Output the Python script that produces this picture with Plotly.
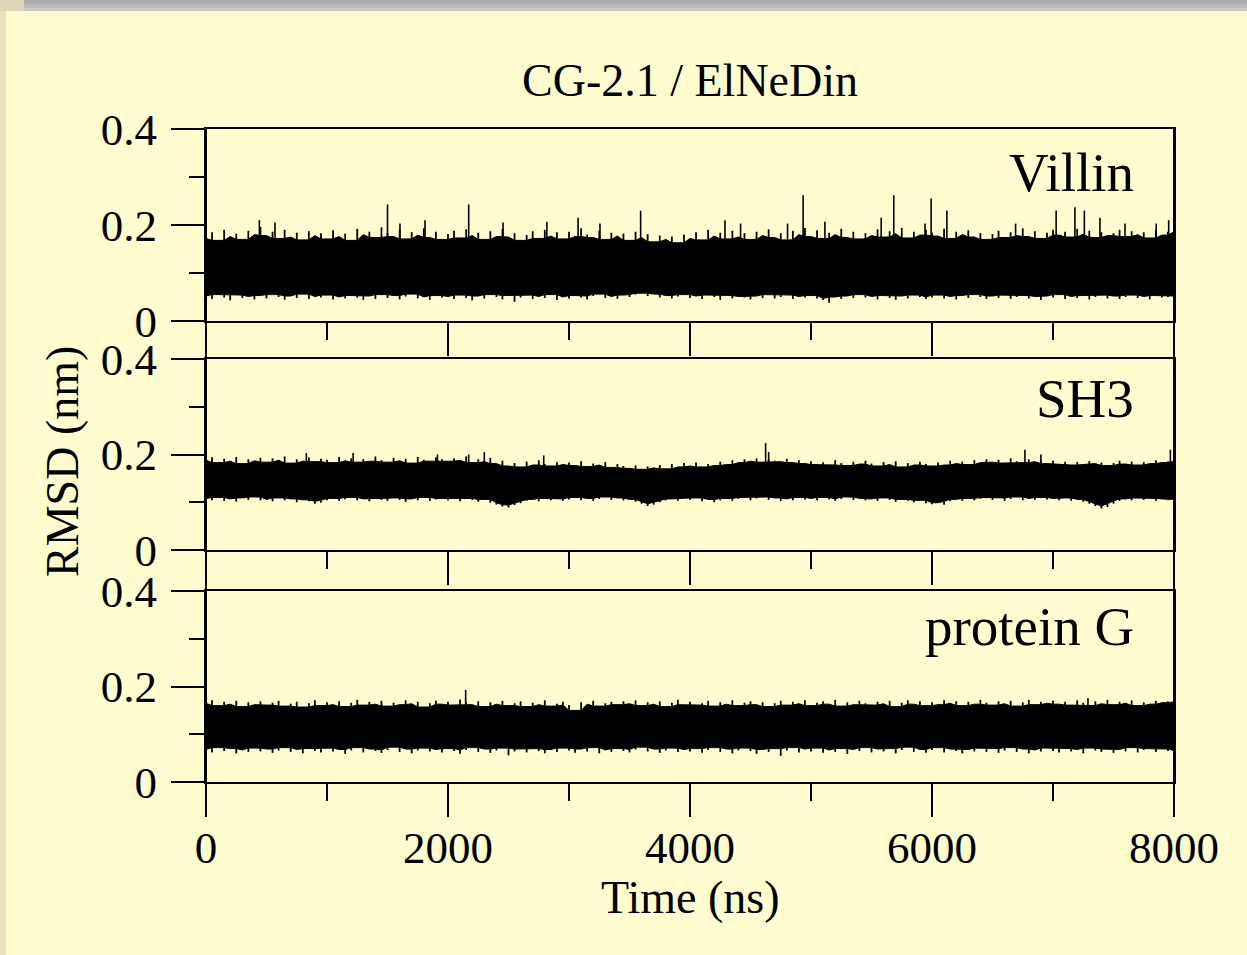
import plotly.graph_objects as go

FONT = "Liberation Serif, Times New Roman, Times, serif"
W, H = 1247, 955
BG = "#FFFDD0"

# Sampling grid of the envelopes (ns)
time_ns = list(range(0, 8001, 50))

# ---------------- Villin ----------------
villin_upper = [
    0.172, 0.185, 0.168, 0.190, 0.176, 0.182, 0.170, 0.188, 0.180, 0.196,
    0.178, 0.186, 0.172, 0.190, 0.175, 0.184, 0.169, 0.187, 0.178, 0.183,
    0.171, 0.189, 0.176, 0.182, 0.168, 0.192, 0.180, 0.186, 0.174, 0.195,
    0.183, 0.176, 0.190, 0.171, 0.185, 0.179, 0.193, 0.174, 0.186, 0.170,
    0.181, 0.188, 0.173, 0.191, 0.178, 0.184, 0.170, 0.187, 0.176, 0.192,
    0.175, 0.183, 0.168, 0.179, 0.187, 0.172, 0.190, 0.177, 0.185, 0.171,
    0.186, 0.176, 0.193, 0.180, 0.174, 0.188, 0.170, 0.184, 0.177, 0.182,
    0.168, 0.186, 0.174, 0.181, 0.165, 0.178, 0.170, 0.176, 0.163, 0.180,
    0.172, 0.185, 0.169, 0.190, 0.177, 0.184, 0.171, 0.188, 0.175, 0.183,
    0.170, 0.186, 0.178, 0.191, 0.174, 0.183, 0.169, 0.188, 0.180, 0.194,
    0.176, 0.189, 0.172, 0.184, 0.180, 0.192, 0.174, 0.186, 0.171, 0.183,
    0.178, 0.191, 0.175, 0.187, 0.182, 0.194, 0.173, 0.186, 0.179, 0.190,
    0.184, 0.177, 0.192, 0.172, 0.186, 0.180, 0.189, 0.175, 0.183, 0.170,
    0.181, 0.188, 0.174, 0.185, 0.178, 0.193, 0.176, 0.187, 0.172, 0.184,
    0.190, 0.179, 0.186, 0.175, 0.192, 0.181, 0.188, 0.174, 0.185, 0.178,
    0.183, 0.190, 0.176, 0.187, 0.180, 0.185, 0.173, 0.189, 0.179, 0.186,
    0.192,
]
villin_lower = [
    0.052, 0.046, 0.055, 0.049, 0.043, 0.054, 0.048, 0.051, 0.045, 0.053,
    0.047, 0.055, 0.050, 0.044, 0.052, 0.048, 0.056, 0.046, 0.051, 0.049,
    0.054, 0.045, 0.050, 0.047, 0.053, 0.049, 0.044, 0.052, 0.046, 0.055,
    0.048, 0.053, 0.045, 0.051, 0.056, 0.047, 0.050, 0.044, 0.053, 0.049,
    0.051, 0.046, 0.054, 0.048, 0.043, 0.052, 0.047, 0.055, 0.050, 0.045,
    0.053, 0.040, 0.049, 0.054, 0.046, 0.051, 0.048, 0.055, 0.044, 0.050,
    0.047, 0.053, 0.049, 0.045, 0.052, 0.056, 0.048, 0.051, 0.046, 0.054,
    0.050, 0.055, 0.058, 0.052, 0.056, 0.049, 0.053, 0.047, 0.051, 0.055,
    0.048, 0.052, 0.046, 0.054, 0.050, 0.044, 0.053, 0.047, 0.051, 0.049,
    0.045, 0.052, 0.048, 0.055, 0.047, 0.050, 0.054, 0.046, 0.051, 0.049,
    0.053, 0.047, 0.044, 0.038, 0.050, 0.046, 0.052, 0.048, 0.055, 0.049,
    0.051, 0.045, 0.053, 0.048, 0.044, 0.052, 0.047, 0.054, 0.050, 0.046,
    0.049, 0.054, 0.047, 0.051, 0.045, 0.053, 0.048, 0.055, 0.050, 0.046,
    0.052, 0.048, 0.054, 0.046, 0.050, 0.053, 0.047, 0.051, 0.044, 0.052,
    0.049, 0.055, 0.046, 0.051, 0.048, 0.053, 0.045, 0.050, 0.054, 0.047,
    0.052, 0.046, 0.050, 0.054, 0.048, 0.051, 0.045, 0.053, 0.049, 0.050,
    0.052,
]
villin_spike_t = [441, 570, 1500, 1603, 1810, 2171, 2455, 2817, 3075, 3256,
                  3592, 4289, 4418, 4806, 4935, 5115, 5580, 5684, 5942, 5993,
                  6123, 6691, 7026, 7181, 7259, 7388, 7595, 7853, 7956]
villin_spike_v = [0.210, 0.205, 0.243, 0.203, 0.210, 0.243, 0.205, 0.207, 0.215, 0.203,
                  0.230, 0.210, 0.203, 0.203, 0.262, 0.207, 0.215, 0.262, 0.203, 0.255,
                  0.230, 0.203, 0.230, 0.237, 0.230, 0.215, 0.203, 0.203, 0.210]

# ---------------- SH3 ----------------
sh3_upper = [
    0.188, 0.194, 0.183, 0.191, 0.186, 0.195, 0.181, 0.190, 0.187, 0.193,
    0.184, 0.192, 0.188, 0.196, 0.182, 0.190, 0.186, 0.194, 0.185, 0.191,
    0.189, 0.183, 0.195, 0.187, 0.192, 0.184, 0.190, 0.186, 0.196, 0.188,
    0.184, 0.193, 0.187, 0.191, 0.182, 0.195, 0.189, 0.186, 0.194, 0.190,
    0.186, 0.192, 0.188, 0.196, 0.183, 0.190, 0.185, 0.193, 0.181, 0.187,
    0.176, 0.182, 0.174, 0.185, 0.178, 0.188, 0.180, 0.176, 0.184, 0.179,
    0.183, 0.177, 0.186, 0.175, 0.181, 0.178, 0.184, 0.173, 0.180, 0.176,
    0.171, 0.177, 0.169, 0.175, 0.172, 0.178, 0.170, 0.180, 0.174, 0.182,
    0.176, 0.183, 0.174, 0.180, 0.177, 0.185, 0.179, 0.188, 0.183, 0.190,
    0.186, 0.192, 0.184, 0.190, 0.187, 0.185, 0.191, 0.183, 0.188, 0.181,
    0.186, 0.179, 0.184, 0.178, 0.188, 0.182, 0.177, 0.185, 0.180, 0.187,
    0.181, 0.176, 0.184, 0.179, 0.186, 0.174, 0.182, 0.178, 0.185, 0.180,
    0.176, 0.183, 0.178, 0.187, 0.181, 0.185, 0.179, 0.188, 0.183, 0.190,
    0.184, 0.189, 0.182, 0.192, 0.186, 0.183, 0.190, 0.185, 0.188, 0.181,
    0.187, 0.180, 0.185, 0.178, 0.184, 0.179, 0.186, 0.181, 0.183, 0.177,
    0.182, 0.187, 0.180, 0.185, 0.178, 0.184, 0.181, 0.188, 0.183, 0.186,
    0.190,
]
sh3_lower = [
    0.108, 0.104, 0.110, 0.103, 0.107, 0.101, 0.109, 0.105, 0.111, 0.104,
    0.106, 0.102, 0.109, 0.104, 0.107, 0.100, 0.105, 0.102, 0.097, 0.099,
    0.104, 0.108, 0.103, 0.106, 0.110, 0.104, 0.107, 0.102, 0.108, 0.105,
    0.103, 0.109, 0.105, 0.101, 0.107, 0.104, 0.110, 0.103, 0.106, 0.108,
    0.104, 0.107, 0.102, 0.108, 0.105, 0.101, 0.106, 0.099, 0.095, 0.091,
    0.089, 0.094, 0.098, 0.103, 0.106, 0.102, 0.108, 0.104, 0.107, 0.103,
    0.106, 0.110, 0.104, 0.108, 0.103, 0.107, 0.111, 0.105, 0.109, 0.104,
    0.106, 0.101, 0.097, 0.092, 0.095, 0.100, 0.104, 0.107, 0.103, 0.108,
    0.105, 0.109, 0.102, 0.106, 0.100, 0.104, 0.108, 0.103, 0.107, 0.110,
    0.104, 0.108, 0.111, 0.105, 0.109, 0.103, 0.107, 0.104, 0.110, 0.106,
    0.108, 0.104, 0.110, 0.106, 0.103, 0.107, 0.111, 0.105, 0.108, 0.104,
    0.107, 0.103, 0.109, 0.105, 0.101, 0.106, 0.103, 0.100, 0.104, 0.098,
    0.096, 0.099, 0.095, 0.102, 0.106, 0.103, 0.108, 0.104, 0.107, 0.110,
    0.105, 0.109, 0.103, 0.107, 0.111, 0.104, 0.108, 0.105, 0.110, 0.106,
    0.108, 0.104, 0.109, 0.103, 0.106, 0.101, 0.097, 0.092, 0.087, 0.090,
    0.097, 0.103, 0.107, 0.104, 0.109, 0.105, 0.108, 0.103, 0.107, 0.104,
    0.106,
]
sh3_spike_t = [829, 1216, 1913, 2171, 2300, 2791, 4625, 4650, 6768, 6900, 7970]
sh3_spike_v = [0.203, 0.203, 0.200, 0.200, 0.205, 0.198, 0.224, 0.205, 0.210, 0.200, 0.210]

# ---------------- protein G ----------------
protg_upper = [
    0.165, 0.171, 0.160, 0.168, 0.163, 0.170, 0.158, 0.167, 0.162, 0.169,
    0.161, 0.166, 0.170, 0.159, 0.164, 0.168, 0.157, 0.165, 0.171, 0.160,
    0.167, 0.162, 0.169, 0.158, 0.166, 0.172, 0.161, 0.168, 0.163, 0.170,
    0.159, 0.166, 0.162, 0.171, 0.164, 0.168, 0.157, 0.165, 0.170, 0.163,
    0.168, 0.161, 0.173, 0.166, 0.162, 0.169, 0.158, 0.167, 0.163, 0.170,
    0.160, 0.165, 0.169, 0.158, 0.166, 0.162, 0.171, 0.159, 0.164, 0.168,
    0.161, 0.150, 0.167, 0.163, 0.170, 0.159, 0.165, 0.168, 0.162, 0.169,
    0.164, 0.171, 0.160, 0.167, 0.163, 0.169, 0.158, 0.166, 0.172, 0.162,
    0.168, 0.161, 0.165, 0.170, 0.159, 0.167, 0.163, 0.171, 0.160, 0.166,
    0.169, 0.162, 0.167, 0.158, 0.165, 0.170, 0.161, 0.168, 0.164, 0.171,
    0.160, 0.166, 0.169, 0.163, 0.172, 0.159, 0.167, 0.162, 0.170, 0.165,
    0.161, 0.168, 0.164, 0.170, 0.158, 0.166, 0.171, 0.163, 0.169, 0.160,
    0.167, 0.162, 0.171, 0.165, 0.169, 0.160, 0.168, 0.163, 0.172, 0.166,
    0.161, 0.169, 0.164, 0.170, 0.159, 0.167, 0.172, 0.162, 0.168, 0.165,
    0.170, 0.163, 0.168, 0.161, 0.171, 0.166, 0.160, 0.169, 0.164, 0.172,
    0.162, 0.168, 0.165, 0.171, 0.160, 0.167, 0.163, 0.170, 0.166, 0.169,
    0.168,
]
protg_lower = [
    0.068, 0.062, 0.072, 0.065, 0.070, 0.060, 0.067, 0.063, 0.071, 0.064,
    0.069, 0.061, 0.066, 0.072, 0.063, 0.068, 0.060, 0.070, 0.065, 0.062,
    0.071, 0.064, 0.068, 0.059, 0.066, 0.072, 0.062, 0.069, 0.065, 0.061,
    0.067, 0.073, 0.063, 0.069, 0.060, 0.066, 0.071, 0.064, 0.068, 0.062,
    0.070, 0.065, 0.059, 0.067, 0.072, 0.063, 0.069, 0.061, 0.066, 0.071,
    0.056, 0.064, 0.069, 0.062, 0.070, 0.065, 0.060, 0.068, 0.063, 0.071,
    0.066, 0.061, 0.069, 0.064, 0.072, 0.060, 0.067, 0.063, 0.070, 0.065,
    0.062, 0.068, 0.073, 0.064, 0.069, 0.061, 0.066, 0.071, 0.063, 0.068,
    0.064, 0.070, 0.061, 0.067, 0.072, 0.063, 0.069, 0.060, 0.066, 0.071,
    0.065, 0.059, 0.068, 0.063, 0.070, 0.055, 0.066, 0.072, 0.062, 0.069,
    0.064, 0.071, 0.061, 0.067, 0.063, 0.070, 0.059, 0.068, 0.065, 0.072,
    0.062, 0.069, 0.064, 0.070, 0.060, 0.067, 0.073, 0.063, 0.068, 0.061,
    0.067, 0.072, 0.062, 0.069, 0.065, 0.060, 0.068, 0.064, 0.071, 0.063,
    0.070, 0.061, 0.066, 0.072, 0.063, 0.069, 0.060, 0.067, 0.064, 0.071,
    0.065, 0.062, 0.070, 0.064, 0.068, 0.060, 0.071, 0.066, 0.063, 0.069,
    0.061, 0.068, 0.064, 0.072, 0.062, 0.067, 0.070, 0.063, 0.069, 0.065,
    0.066,
]
protg_spike_t = [2146, 7289]
protg_spike_v = [0.193, 0.176]

panels = [
    ("Villin", villin_upper, villin_lower, villin_spike_t, villin_spike_v),
    ("SH3", sh3_upper, sh3_lower, sh3_spike_t, sh3_spike_v),
    ("protein G", protg_upper, protg_lower, protg_spike_t, protg_spike_v),
]

x_ticks = [0, 2000, 4000, 6000, 8000]
y_ticks = [0, 0.2, 0.4]


def py(y_px):
    return 1 - y_px / H


def px(x_px):
    return x_px / W


def rolling(vals, pick):
    """Three-sample rolling min/max: the solid body of the trace."""
    out = []
    for k in range(len(vals)):
        out.append(pick(vals[max(0, k - 1):k + 2]))
    return out


X_DOM = [px(206), px(1174)]
Y_DOMS = [[py(321), py(129)], [py(550), py(359)], [py(782), py(591)]]
LABEL_Y = [172, 399, 626]

fig = go.Figure()
layout = dict(
    width=W, height=H, margin=dict(l=0, r=0, t=0, b=0, autoexpand=False),
    paper_bgcolor=BG, plot_bgcolor=BG, showlegend=False,
    font=dict(family=FONT, color="black"),
)
annotations = []

for i, (name, upper, lower, st, sv) in enumerate(panels):
    n = i + 1
    xa = "x" if n == 1 else f"x{n}"
    ya = "y" if n == 1 else f"y{n}"
    core_up = rolling(upper, min)
    core_lo = rolling(lower, max)
    # solid body of the fluctuating trace
    fig.add_trace(go.Scatter(x=time_ns, y=core_lo, mode="lines", line=dict(color="black", width=1),
                             xaxis=xa, yaxis=ya, hoverinfo="skip"))
    fig.add_trace(go.Scatter(x=time_ns, y=core_up, mode="lines", line=dict(color="black", width=1),
                             fill="tonexty", fillcolor="black", xaxis=xa, yaxis=ya, hoverinfo="skip"))
    # fine excursions to the upper and lower envelope at every sample
    hx, hy = [], []
    for t, cu, u, cl, lo in zip(time_ns, core_up, upper, core_lo, lower):
        hx += [t, t, None, t, t, None]
        hy += [cu, u, None, cl, lo, None]
    fig.add_trace(go.Scatter(x=hx, y=hy, mode="lines", line=dict(color="black", width=1.8),
                             xaxis=xa, yaxis=ya, hoverinfo="skip"))
    # isolated large excursions
    base = [(u + l) / 2 for u, l in zip(upper, lower)]
    sx, sy = [], []
    for t, v in zip(st, sv):
        k = min(range(len(time_ns)), key=lambda j: abs(time_ns[j] - t))
        sx += [t, t, None]
        sy += [base[k], v, None]
    fig.add_trace(go.Scatter(x=sx, y=sy, mode="lines", line=dict(color="black", width=1.6),
                             xaxis=xa, yaxis=ya, hoverinfo="skip"))

    layout["xaxis" if n == 1 else f"xaxis{n}"] = dict(
        domain=X_DOM, anchor=ya, range=[0, 8000], automargin=False,
        showline=True, linecolor="black", linewidth=2, mirror=True,
        ticks="outside", ticklen=33, tickwidth=2, tickcolor="black",
        tickvals=x_ticks, ticktext=[str(v) for v in x_ticks],
        minor=dict(ticks="outside", ticklen=17, tickwidth=2, tickcolor="black", dtick=1000, tick0=0),
        showgrid=False, zeroline=False, showticklabels=(n == 3),
        tickfont=dict(family=FONT, size=45, color="black"), ticklabelstandoff=-8,
    )
    layout["yaxis" if n == 1 else f"yaxis{n}"] = dict(
        domain=Y_DOMS[i], anchor=xa, range=[0, 0.4], automargin=False,
        showline=True, linecolor="black", linewidth=2, mirror=True,
        ticks="outside", ticklen=33, tickwidth=2, tickcolor="black",
        tickvals=y_ticks, ticktext=["0", "0.2", "0.4"],
        minor=dict(ticks="outside", ticklen=15, tickwidth=2, tickcolor="black", dtick=0.1, tick0=0),
        showgrid=False, zeroline=False,
        tickfont=dict(family=FONT, size=45, color="black"), ticklabelstandoff=5,
    )
    annotations.append(dict(text=name, xref="paper", yref="paper", x=px(1136), y=py(LABEL_Y[i]),
                            xanchor="right", yanchor="middle", showarrow=False,
                            font=dict(family=FONT, size=55, color="black")))

annotations += [
    dict(text="CG-2.1 / ElNeDin", xref="paper", yref="paper", x=px(690), y=py(81),
         xanchor="center", yanchor="middle", showarrow=False, font=dict(family=FONT, size=46)),
    dict(text="RMSD (nm)", xref="paper", yref="paper", x=px(62), y=py(462), textangle=-90,
         xanchor="center", yanchor="middle", showarrow=False, font=dict(family=FONT, size=46)),
    dict(text="Time (ns)", xref="paper", yref="paper", x=px(690), y=py(897),
         xanchor="center", yanchor="middle", showarrow=False, font=dict(family=FONT, size=46)),
]

shapes = [
    # frame connectors between stacked panels
    dict(type="line", xref="paper", yref="paper", x0=X_DOM[0], x1=X_DOM[0], y0=py(816), y1=py(129),
         line=dict(color="black", width=2)),
    dict(type="line", xref="paper", yref="paper", x0=X_DOM[1], x1=X_DOM[1], y0=py(816), y1=py(129),
         line=dict(color="black", width=2)),
    # page border: beige strip at the left, grey bar at the top
    dict(type="rect", xref="paper", yref="paper", x0=0, x1=px(6), y0=0, y1=1,
         fillcolor="#EAE2BC", line=dict(width=0), layer="below"),
    dict(type="rect", xref="paper", yref="paper", x0=0, x1=1, y0=py(11), y1=1,
         fillcolor="#C9C9C2", line=dict(width=0), layer="below"),
    dict(type="rect", xref="paper", yref="paper", x0=0, x1=1, y0=py(8), y1=1,
         fillcolor="#B9B9B9", line=dict(width=0), layer="below"),
    dict(type="rect", xref="paper", yref="paper", x0=0, x1=1, y0=py(4), y1=1,
         fillcolor="#ABABAB", line=dict(width=0), layer="below"),
    dict(type="rect", xref="paper", yref="paper", x0=0, x1=px(24), y0=py(11), y1=1,
         fillcolor="#DDD6B8", line=dict(width=0), layer="below"),
]

layout["annotations"] = annotations
layout["shapes"] = shapes
fig.update_layout(**layout)

fig.write_html("out.html")
